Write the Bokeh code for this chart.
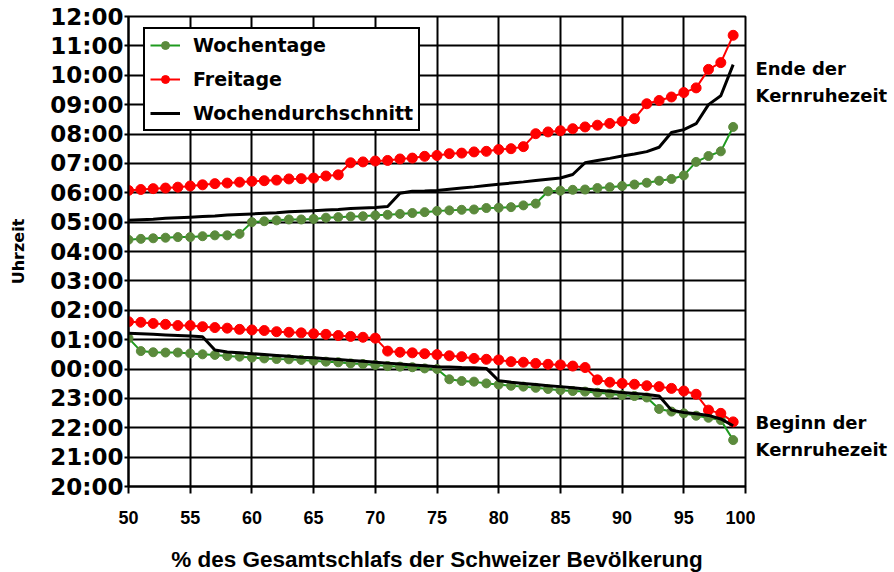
from bokeh.plotting import figure
from bokeh.layouts import row
from bokeh.models import Legend, LegendItem, FixedTicker, Range1d, ColumnDataSource
from bokeh.core.properties import value
from bokeh.embed import file_html
from bokeh.resources import INLINE

# x: % des Gesamtschlafs
pct = list(range(50, 100))

# Ende der Kernruhezeit (Uhrzeit in Dezimalstunden, Morgen)
woch_ende = [4.40, 4.43, 4.45, 4.47, 4.49, 4.49, 4.52, 4.55, 4.55, 4.60,
             5.00, 5.03, 5.06, 5.09, 5.09, 5.11, 5.15, 5.17, 5.19, 5.20,
             5.23, 5.25, 5.28, 5.31, 5.34, 5.38, 5.40, 5.42, 5.43, 5.48,
             5.49, 5.51, 5.57, 5.63, 6.05, 6.07, 6.10, 6.11, 6.16, 6.19,
             6.23, 6.28, 6.34, 6.41, 6.47, 6.59, 7.05, 7.25, 7.41, 8.24]
frei_ende = [6.08, 6.11, 6.14, 6.16, 6.19, 6.23, 6.27, 6.31, 6.33, 6.36,
             6.39, 6.41, 6.43, 6.47, 6.48, 6.50, 6.57, 6.61, 7.02, 7.05,
             7.08, 7.10, 7.15, 7.18, 7.24, 7.27, 7.33, 7.35, 7.39, 7.41,
             7.47, 7.50, 7.57, 8.01, 8.07, 8.11, 8.18, 8.24, 8.30, 8.36,
             8.43, 8.52, 9.03, 9.14, 9.26, 9.41, 9.57, 10.20, 10.43, 11.36]
schnitt_ende = [5.06, 5.08, 5.10, 5.13, 5.15, 5.17, 5.19, 5.21, 5.24, 5.26,
                5.28, 5.30, 5.32, 5.35, 5.37, 5.39, 5.41, 5.43, 5.46, 5.48,
                5.50, 5.53, 5.98, 6.05, 6.06, 6.08, 6.12, 6.16, 6.20, 6.25,
                6.29, 6.33, 6.37, 6.42, 6.46, 6.50, 6.62, 7.02, 7.10, 7.17,
                7.25, 7.32, 7.40, 7.55, 8.05, 8.15, 8.35, 9.00, 9.30, 10.36]

# Beginn der Kernruhezeit (Stunden ab Mitternacht des Vorabends; >24 = nach Mitternacht)
woch_beginn = [25.05, 24.61, 24.57, 24.56, 24.56, 24.53, 24.50, 24.48, 24.44, 24.42,
               24.39, 24.36, 24.34, 24.33, 24.31, 24.28, 24.25, 24.23, 24.19, 24.17,
               24.14, 24.10, 24.08, 24.06, 24.02, 24.00, 23.65, 23.59, 23.57, 23.51,
               23.47, 23.43, 23.40, 23.36, 23.32, 23.28, 23.25, 23.23, 23.19, 23.16,
               23.11, 23.08, 23.03, 22.64, 22.55, 22.49, 22.41, 22.34, 22.26, 21.58]
frei_beginn = [25.61, 25.59, 25.55, 25.52, 25.48, 25.48, 25.44, 25.41, 25.39, 25.35,
               25.33, 25.31, 25.27, 25.25, 25.23, 25.20, 25.18, 25.14, 25.11, 25.08,
               25.05, 24.61, 24.57, 24.55, 24.52, 24.49, 24.45, 24.42, 24.36, 24.33,
               24.31, 24.25, 24.23, 24.19, 24.16, 24.14, 24.10, 24.05, 23.63, 23.55,
               23.51, 23.48, 23.43, 23.40, 23.34, 23.25, 23.14, 22.60, 22.49, 22.20]
schnitt_beginn = [25.22, 25.20, 25.18, 25.16, 25.14, 25.12, 25.10, 24.65, 24.58, 24.55,
                  24.52, 24.49, 24.46, 24.43, 24.40, 24.38, 24.35, 24.32, 24.29, 24.26,
                  24.23, 24.20, 24.17, 24.14, 24.11, 24.08, 24.07, 24.05, 24.04, 24.02,
                  23.60, 23.55, 23.51, 23.47, 23.43, 23.40, 23.36, 23.32, 23.28, 23.24,
                  23.20, 23.17, 23.13, 23.08, 22.60, 22.52, 22.48, 22.42, 22.30, 22.07]

x_ticks = [50, 55, 60, 65, 70, 75, 80, 85, 90, 95, 100]
y_ticks = list(range(20, 37))
y_labels = ["20:00", "21:00", "22:00", "23:00", "00:00", "01:00", "02:00", "03:00",
            "04:00", "05:00", "06:00", "07:00", "08:00", "09:00", "10:00", "11:00", "12:00"]

series_names = ["Wochentage", "Freitage", "Wochendurchschnitt"]

# Beschriftungen rechts (Text und Höhe in Stunden auf der y-Achse)
ann_text = ["Ende der", "Kernruhezeit", "Beginn der", "Kernruhezeit"]
ann_y = [34.23, 33.31, 22.19, 21.27]

GREEN_LINE = "#1f9a1f"
GREEN_DOT = "#5b8a3c"
RED = "#ff0000"
BLACK = "#000000"

p = figure(frame_width=617, frame_height=470, output_backend="svg", toolbar_location=None,
           x_range=Range1d(50, 100), y_range=Range1d(20, 36),
           min_border_left=128, min_border_right=10, min_border_top=16, min_border_bottom=80)
p.background_fill_color = "white"
p.outline_line_color = "black"
p.outline_line_width = 2

woch_ende_axis = [v + 24 for v in woch_ende]
frei_ende_axis = [v + 24 for v in frei_ende]
schnitt_ende_axis = [v + 24 for v in schnitt_ende]

# Wochentage
g1 = p.line(pct, woch_ende_axis, line_color=GREEN_LINE, line_width=2)
g2 = p.scatter(pct, woch_ende_axis, size=9, fill_color=GREEN_DOT, line_color=GREEN_DOT)
p.line(pct, woch_beginn, line_color=GREEN_LINE, line_width=2)
p.scatter(pct, woch_beginn, size=9, fill_color=GREEN_DOT, line_color=GREEN_DOT)

# Freitage
r1 = p.line(pct, frei_ende_axis, line_color=RED, line_width=2)
r2 = p.scatter(pct, frei_ende_axis, size=10, fill_color=RED, line_color=RED)
p.line(pct, frei_beginn, line_color=RED, line_width=2)
p.scatter(pct, frei_beginn, size=10, fill_color=RED, line_color=RED)

# Wochendurchschnitt
b1 = p.line(pct, schnitt_ende_axis, line_color=BLACK, line_width=3)
p.line(pct, schnitt_beginn, line_color=BLACK, line_width=3)

# axes
p.xaxis.ticker = FixedTicker(ticks=x_ticks)
p.yaxis.ticker = FixedTicker(ticks=y_ticks)
p.yaxis.major_label_overrides = {t: l for t, l in zip(y_ticks, y_labels)}
p.xgrid.ticker = FixedTicker(ticks=x_ticks)
p.ygrid.ticker = FixedTicker(ticks=y_ticks)
for g in (p.xgrid, p.ygrid):
    g.grid_line_color = "black"
    g.grid_line_width = 2
    g.grid_line_alpha = 1

for ax in (p.xaxis, p.yaxis):
    ax.axis_line_color = "black"
    ax.axis_line_width = 2
    ax.major_tick_line_color = "black"
    ax.major_tick_line_width = 2
    ax.minor_tick_line_color = None
    ax.major_tick_in = 0

p.xaxis.major_tick_out = 7
p.yaxis.major_tick_out = 4
p.xaxis.major_label_text_font = "Liberation Sans"
p.xaxis.major_label_text_font_style = "bold"
p.xaxis.major_label_text_font_size = "18px"
p.xaxis.major_label_text_color = "black"
p.xaxis.major_label_standoff = 17
p.yaxis.major_label_text_font = "DejaVu Sans"
p.yaxis.major_label_text_font_style = "bold"
p.yaxis.major_label_text_font_size = "23px"
p.yaxis.major_label_text_color = "black"
p.yaxis.major_label_standoff = 1

p.xaxis.axis_label = "% des Gesamtschlafs der Schweizer Bevölkerung"
p.xaxis.axis_label_text_font = "Liberation Sans"
p.xaxis.axis_label_text_font_style = "bold"
p.xaxis.axis_label_text_font_size = "22.5px"
p.xaxis.axis_label_text_color = "black"
p.xaxis.axis_label_standoff = 20
p.yaxis.axis_label = "Uhrzeit"
p.yaxis.axis_label_text_font = "DejaVu Sans"
p.yaxis.axis_label_text_font_style = "bold"
p.yaxis.axis_label_text_font_size = "16px"
p.yaxis.axis_label_text_color = "black"
p.yaxis.axis_label_standoff = 19

legend = Legend(items=[
    LegendItem(label=series_names[0], renderers=[g1, g2]),
    LegendItem(label=series_names[1], renderers=[r1, r2]),
    LegendItem(label=series_names[2], renderers=[b1]),
], location=(15, 355))
legend.label_text_font = "DejaVu Sans"
legend.label_text_font_style = "bold"
legend.label_text_font_size = "19px"
legend.label_text_color = "black"
legend.border_line_color = "black"
legend.border_line_width = 2
legend.border_line_alpha = 1
legend.background_fill_color = "white"
legend.background_fill_alpha = 1
legend.glyph_width = 30
legend.glyph_height = 20
legend.label_height = 20
legend.label_standoff = 13
legend.spacing = 12
legend.padding = 5
legend.margin = 0
p.add_layout(legend, "center")

# side panel with the right-hand annotations, sharing the y scale
q = figure(frame_width=134, frame_height=470, output_backend="svg", toolbar_location=None,
           x_range=Range1d(0, 1), y_range=p.y_range,
           min_border_left=0, min_border_right=0, min_border_top=16, min_border_bottom=80)
q.axis.visible = False
q.grid.visible = False
q.outline_line_color = None
src = ColumnDataSource(dict(x=[0.0] * len(ann_text), y=ann_y, t=ann_text))
q.text(x="x", y="y", text="t", source=src, x_offset=0, text_font=value("DejaVu Sans"),
       text_font_style="bold", text_font_size="18px", text_color="black",
       text_baseline="middle", text_align="left")

layout = row(p, q, spacing=0)
open("out.html", "w").write(file_html(layout, INLINE))
